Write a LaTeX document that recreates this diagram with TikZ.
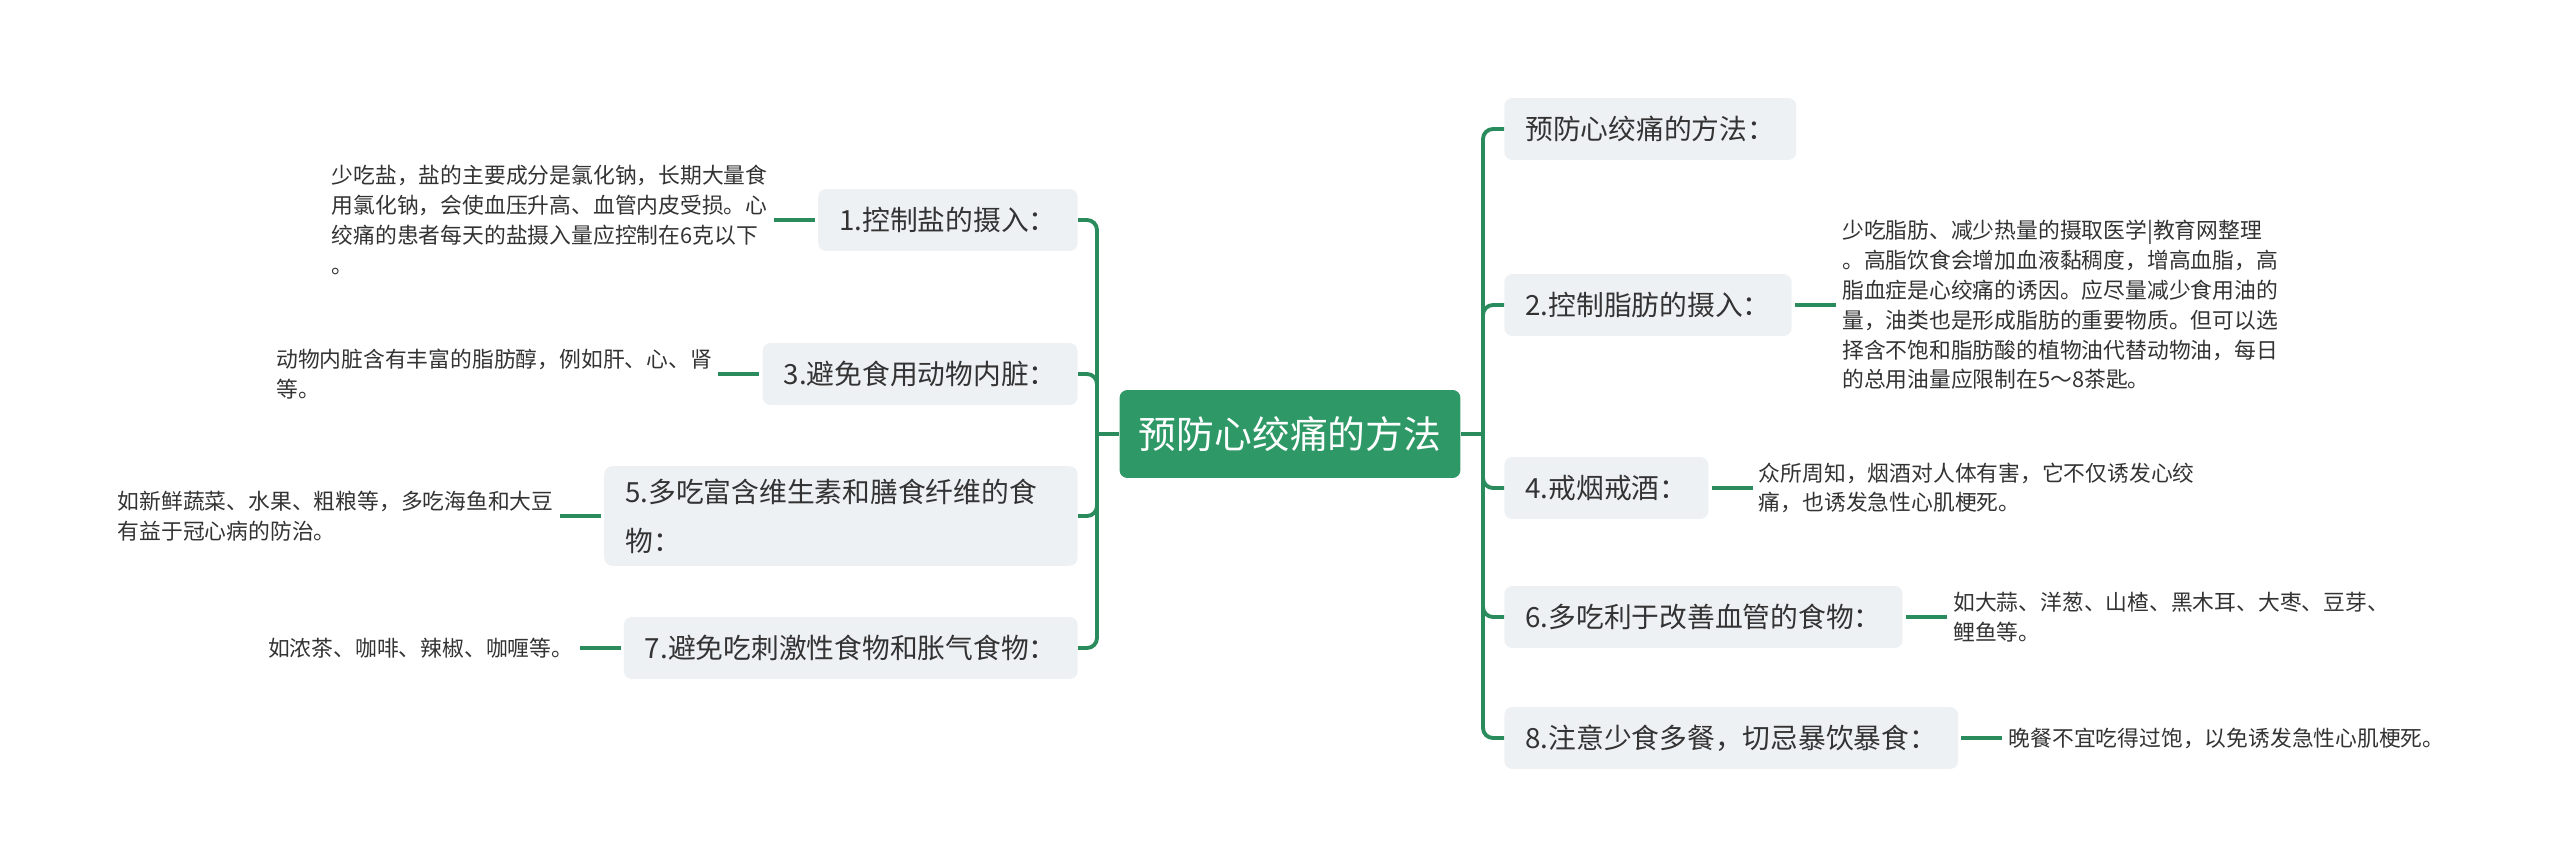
\documentclass[tikz,border=0pt]{standalone}
\usepackage{fontspec}
\setmainfont{Noto Sans CJK SC}
\usepackage{xcolor}
\usepackage{tikz}
\usetikzlibrary{positioning}
\definecolor{mapGreen}{HTML}{2E9966}
\definecolor{mapLine}{HTML}{2A8C5C}
\definecolor{mapGray}{HTML}{EEF1F4}
\definecolor{mapText}{HTML}{333333}
\tikzset{
  rootbox/.style={
    rectangle,
    rounded corners=4.5pt,
    fill=mapGreen,
    text=white,
    font={\fontsize{21.5pt}{26pt}\selectfont},
    minimum width=6.82cm,
    minimum height=1.76cm
  },
  topic/.style={
    rectangle,
    rounded corners=4.5pt,
    fill=mapGray,
    text=mapText,
    align=left,
    font={\fontsize{15.8pt}{28pt}\selectfont},
    inner xsep=0.42cm,
    inner ysep=7pt,
    minimum height=1.24cm
  },
  leaf/.style={
    align=left,
    text=mapText,
    inner sep=0pt,
    font={\fontsize{12.4pt}{17pt}\selectfont}
  },
  branch/.style={draw=mapLine, line width=2.2pt, rounded corners=0.2cm},
  twig/.style={draw=mapLine, line width=2.2pt, shorten <=0.06cm, shorten >=0.12cm}
}

\begin{document}
\begin{tikzpicture}[x=0.02cm, y=-0.02cm, node distance=1cm]
  \useasboundingbox (0,0) rectangle (2560,868);

  \node[rootbox] (root) at (1290,434) {预防心绞痛的方法};
  \coordinate (lj) at (1097,434);
  \coordinate (rj) at (1483,434);

  % left side
  \node[topic, anchor=east] (salt) at (1078,220) {1.控制盐的摄入：};
  \node[topic, anchor=east] (organ) at (1078,374) {3.避免食用动物内脏：};
  \node[topic, anchor=east, text width=8.63cm] (fiber) at (1078,516) {5.多吃富含维生素和膳食纤维的食\\物：};
  \node[topic, anchor=east] (spicy) at (1078,648) {7.避免吃刺激性食物和胀气食物：};

  \node[leaf, left=of salt] (saltnote) {少吃盐，盐的主要成分是氯化钠，长期大量食\\用氯化钠，会使血压升高、血管内皮受损。心\\绞痛的患者每天的盐摄入量应控制在6克以下\\。};
  \node[leaf, left=of organ] (organnote) {动物内脏含有丰富的脂肪醇，例如肝、心、肾\\等。};
  \node[leaf, left=of fiber] (fibernote) {如新鲜蔬菜、水果、粗粮等，多吃海鱼和大豆\\有益于冠心病的防治。};
  \node[leaf, left=of spicy] (spicynote) {如浓茶、咖啡、辣椒、咖喱等。};

  % right side
  \node[topic, anchor=west] (intro) at (1504,129) {预防心绞痛的方法：};
  \node[topic, anchor=west] (fat) at (1504,305) {2.控制脂肪的摄入：};
  \node[topic, anchor=west] (smoke) at (1504,488) {4.戒烟戒酒：};
  \node[topic, anchor=west] (vessel) at (1504,617) {6.多吃利于改善血管的食物：};
  \node[topic, anchor=west] (meal) at (1504,738) {8.注意少食多餐，切忌暴饮暴食：};

  \node[leaf, right=of fat] (fatnote) {少吃脂肪、减少热量的摄取医学|教育网整理\\。高脂饮食会增加血液黏稠度，增高血脂，高\\脂血症是心绞痛的诱因。应尽量减少食用油的\\量，油类也是形成脂肪的重要物质。但可以选\\择含不饱和脂肪酸的植物油代替动物油，每日\\的总用油量应限制在5～8茶匙。};
  \node[leaf, right=of smoke] (smokenote) {众所周知，烟酒对人体有害，它不仅诱发心绞\\痛，也诱发急性心肌梗死。};
  \node[leaf, right=of vessel] (vesselnote) {如大蒜、洋葱、山楂、黑木耳、大枣、豆芽、\\鲤鱼等。};
  \node[leaf, right=of meal] (mealnote) {晚餐不宜吃得过饱，以免诱发急性心肌梗死。};

  \draw[branch] (root.west) -- (lj);
  \draw[branch] (root.east) -- (rj);
  \foreach \n in {salt,organ,fiber,spicy}
    \draw[branch] (lj) |- (\n.east);
  \foreach \n in {intro,fat,smoke,vessel,meal}
    \draw[branch] (rj) |- (\n.west);

  \foreach \n in {salt,organ,fiber,spicy}
    \draw[twig] (\n.west) -- (\n note.east);
  \foreach \n in {fat,smoke,vessel,meal}
    \draw[twig] (\n.east) -- (\n note.west);
\end{tikzpicture}
\end{document}
